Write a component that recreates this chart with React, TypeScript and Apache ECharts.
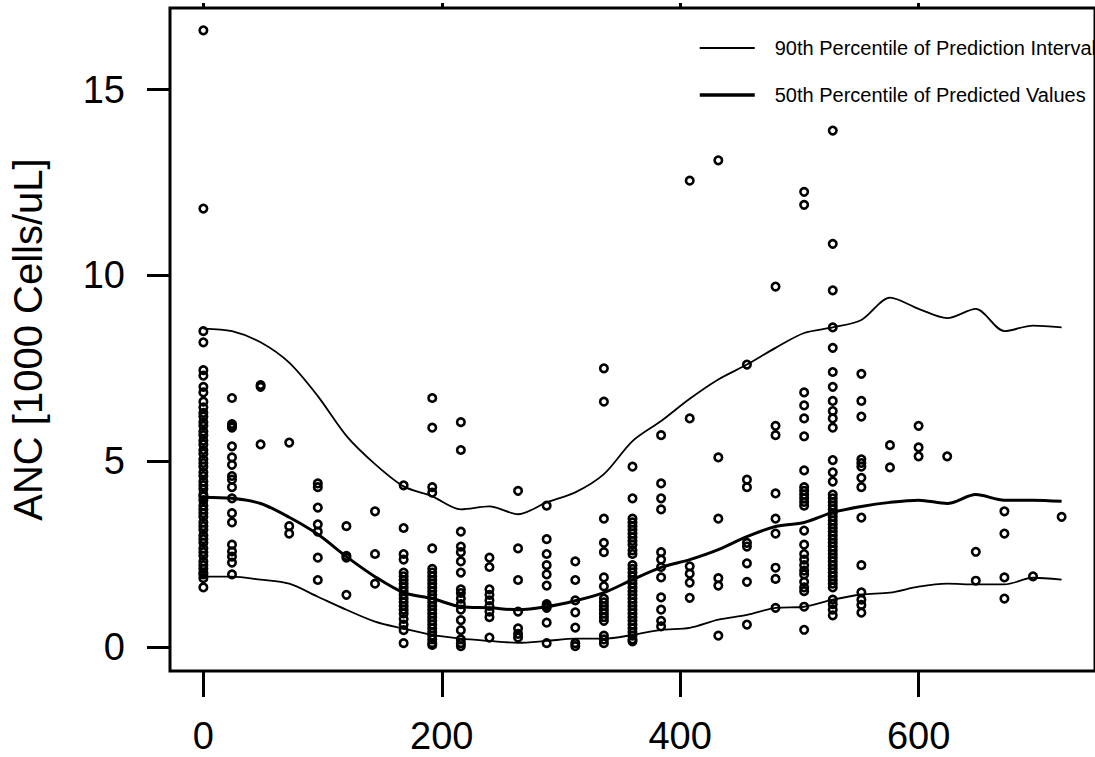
import React, { useEffect, useRef } from "react";
import * as echarts from "echarts";

const visitDays = [0, 24, 48, 72, 96, 120, 144, 168, 192, 216, 240, 264, 288, 312, 336, 360, 384, 408, 432, 456, 480, 504, 528, 552, 576, 600, 624, 648, 672, 696, 720];

const ancObserved: number[][] = [
  [16.6, 11.8, 8.5, 8.2, 7.45, 7.3, 7.0, 6.85, 6.6, 6.45, 6.3, 6.2, 6.05, 5.95, 5.8, 5.7, 5.55, 5.45, 5.3, 5.2, 5.05, 4.95, 4.85, 4.7, 4.6, 4.45, 4.35, 4.25, 4.1, 4.05, 3.95, 3.8, 3.7, 3.6, 3.5, 3.35, 3.25, 3.15, 3.0, 2.9, 2.8, 2.65, 2.55, 2.45, 2.3, 2.2, 2.1, 2.0, 1.95, 1.85, 1.6],
  [6.7, 6.0, 5.95, 5.9, 5.4, 5.1, 4.9, 4.6, 4.5, 4.3, 4.0, 3.6, 3.35, 2.75, 2.57, 2.43, 2.27, 1.95],
  [7.05, 7.0, 5.45],
  [5.5, 3.25, 3.05],
  [4.4, 4.3, 3.75, 3.3, 3.1, 2.4, 1.8],
  [3.25, 2.45, 2.4, 1.4],
  [3.65, 2.5, 1.7],
  [4.35, 3.2, 2.5, 2.35, 2.0, 1.9, 1.8, 1.7, 1.6, 1.5, 1.4, 1.3, 1.2, 1.1, 1.0, 0.9, 0.75, 0.6, 0.45, 0.1],
  [6.7, 5.9, 4.3, 4.15, 2.65, 2.1, 2.0, 1.9, 1.8, 1.7, 1.6, 1.5, 1.4, 1.3, 1.2, 1.1, 1.0, 0.9, 0.8, 0.7, 0.6, 0.5, 0.4, 0.3, 0.2, 0.1, 0.05],
  [6.05, 5.3, 3.1, 2.7, 2.55, 2.3, 2.0, 1.55, 1.45, 1.3, 1.15, 1.0, 0.72, 0.45, 0.2, 0.1, 0.02],
  [2.4, 2.15, 1.55, 1.4, 1.25, 1.1, 0.95, 0.8, 0.25],
  [4.2, 2.65, 1.8, 0.95, 0.5, 0.35, 0.25],
  [3.8, 2.9, 2.5, 2.2, 1.95, 1.65, 1.15, 1.1, 1.05, 0.65, 0.1],
  [2.3, 1.8, 1.25, 0.93, 0.52, 0.1, 0.02],
  [7.5, 6.6, 3.45, 2.8, 2.55, 1.87, 1.63, 1.3, 1.2, 1.1, 1.0, 0.9, 0.8, 0.7, 0.3, 0.2, 0.1],
  [4.85, 4.0, 3.45, 3.35, 3.25, 3.15, 3.05, 2.95, 2.85, 2.75, 2.6, 2.5, 2.2, 2.1, 2.0, 1.9, 1.8, 1.7, 1.6, 1.5, 1.4, 1.3, 1.2, 1.1, 1.0, 0.9, 0.8, 0.7, 0.6, 0.5, 0.4, 0.3, 0.2, 0.15],
  [5.7, 4.4, 4.0, 3.7, 2.55, 2.35, 2.15, 1.87, 1.33, 1.0, 0.7, 0.55],
  [12.55, 6.15, 2.17, 1.97, 1.73, 1.32],
  [13.1, 5.1, 3.45, 1.85, 1.65, 0.3],
  [7.6, 4.5, 4.3, 2.8, 2.7, 2.25, 1.75, 0.6],
  [9.7, 5.95, 5.7, 4.13, 3.45, 3.05, 2.13, 1.83, 1.05],
  [12.25, 11.9, 6.85, 6.5, 6.15, 5.67, 4.75, 4.3, 4.2, 4.1, 4.0, 3.9, 3.8, 3.13, 2.75, 2.5, 2.35, 2.2, 2.05, 1.95, 1.75, 1.6, 1.5, 1.08, 0.46],
  [13.9, 10.85, 9.6, 8.6, 8.05, 7.4, 7.0, 6.62, 6.35, 6.15, 5.9, 5.03, 4.7, 4.45, 4.1, 4.0, 3.9, 3.8, 3.7, 3.6, 3.5, 3.4, 3.3, 3.2, 3.1, 3.0, 2.9, 2.8, 2.7, 2.6, 2.5, 2.4, 2.3, 2.2, 2.1, 2.0, 1.9, 1.8, 1.7, 1.6, 1.27, 1.15, 1.0, 0.85],
  [7.35, 6.62, 6.2, 5.05, 4.95, 4.85, 4.55, 4.3, 3.48, 2.2, 1.47, 1.27, 1.13, 0.92],
  [5.43, 4.83],
  [5.95, 5.37, 5.13],
  [5.13],
  [2.56, 1.78],
  [3.65, 3.05, 1.87, 1.3],
  [1.9],
  [3.5],
];

const upper90 = [8.57, 8.5, 8.2, 7.65, 6.75, 5.68, 4.92, 4.32, 4.05, 3.7, 3.78, 3.57, 3.89, 4.16, 4.65, 5.54, 6.08, 6.68, 7.2, 7.6, 8.05, 8.45, 8.6, 8.8, 9.4, 9.1, 8.85, 9.1, 8.5, 8.65, 8.6];
const median50 = [4.03, 4.0, 3.86, 3.49, 3.03, 2.43, 1.89, 1.46, 1.3, 1.08, 1.05, 1.0, 1.08, 1.24, 1.46, 1.81, 2.14, 2.35, 2.62, 2.97, 3.24, 3.35, 3.62, 3.78, 3.89, 3.95, 3.86, 4.1, 3.95, 3.95, 3.92];
const lower90 = [1.89, 1.89, 1.81, 1.7, 1.35, 1.0, 0.68, 0.49, 0.32, 0.22, 0.16, 0.11, 0.16, 0.22, 0.22, 0.32, 0.46, 0.51, 0.73, 0.86, 1.05, 1.08, 1.27, 1.41, 1.46, 1.62, 1.7, 1.68, 1.68, 1.86, 1.81];

const xTicks = [0, 200, 400, 600];
const yTicks = [0, 5, 10, 15];

const PI_NAME = "90th Percentile of Prediction Interval";
const MED_NAME = "50th Percentile of Predicted Values";
const FONT = "Liberation Sans, Arial, sans-serif";

export default function App() {
  const ref = useRef<HTMLDivElement>(null);

  useEffect(() => {
    if (!ref.current) return;
    const chart = echarts.init(ref.current, undefined, { renderer: "svg" });

    const points: number[][] = [];
    visitDays.forEach((d, i) => {
      ancObserved[i].forEach((v) => points.push([d, v]));
    });
    const zip = (ys: number[]) => visitDays.map((d, i) => [d, ys[i]]);

    chart.setOption({
      animation: false,
      backgroundColor: "#fff",
      grid: {
        left: 169,
        right: -11,
        top: 8,
        bottom: 86,
        show: true,
        borderColor: "#000",
        borderWidth: 3,
        backgroundColor: "transparent",
      },
      legend: {
        data: [
          { name: PI_NAME, lineStyle: { width: 1.8, color: "#000" } },
          { name: MED_NAME, lineStyle: { width: 3.5, color: "#000" } },
        ],
        orient: "vertical",
        left: 693,
        top: 33,
        itemWidth: 55,
        itemHeight: 14,
        itemGap: 27,
        selectedMode: false,
        itemStyle: { opacity: 0 },
        textStyle: {
          fontFamily: FONT,
          fontSize: 20,
          color: "#000",
          padding: [0, 0, 0, 15],
        },
      },
      xAxis: [
        {
          type: "value",
          min: -28,
          max: 748,
          axisLine: { show: false, onZero: false },
          splitLine: { show: false },
          axisTick: {
            show: true,
            customValues: xTicks,
            length: 26,
            lineStyle: { color: "#000", width: 3 },
          },
          axisLabel: {
            customValues: xTicks,
            fontSize: 38,
            fontFamily: FONT,
            color: "#000",
            margin: 46,
          },
        },
        {
          type: "value",
          position: "top",
          min: -28,
          max: 748,
          axisLine: { show: false, onZero: false },
          splitLine: { show: false },
          axisTick: {
            show: true,
            customValues: xTicks,
            length: 5,
            lineStyle: { color: "#000", width: 3 },
          },
          axisLabel: { show: false },
        },
      ],
      yAxis: {
        type: "value",
        min: -0.65,
        max: 17.2,
        axisLine: { show: false, onZero: false },
        splitLine: { show: false },
        axisTick: {
          show: true,
          customValues: yTicks,
          length: 23,
          lineStyle: { color: "#000", width: 3 },
        },
        axisLabel: {
          customValues: yTicks,
          fontSize: 38,
          fontFamily: FONT,
          color: "#000",
          margin: 45,
        },
        name: "ANC [1000 Cells/uL]",
        nameLocation: "middle",
        nameRotate: 90,
        nameGap: 122,
        nameTextStyle: { fontSize: 40, fontFamily: FONT, color: "#000" },
      },
      series: [
        {
          type: "scatter",
          name: "Observed",
          data: points,
          symbol: "circle",
          symbolSize: 7.5,
          itemStyle: { color: "rgba(0,0,0,0)", borderColor: "#000", borderWidth: 2.6, opacity: 1 },
          z: 3,
        },
        {
          type: "line",
          name: PI_NAME,
          data: zip(upper90),
          showSymbol: false,
          symbol: "none",
          smooth: 0.3,
          lineStyle: { color: "#000", width: 1.8 },
          itemStyle: { color: "#000" },
          z: 2,
        },
        {
          type: "line",
          name: PI_NAME,
          data: zip(lower90),
          showSymbol: false,
          symbol: "none",
          smooth: 0.3,
          lineStyle: { color: "#000", width: 1.8 },
          itemStyle: { color: "#000" },
          z: 2,
        },
        {
          type: "line",
          name: MED_NAME,
          data: zip(median50),
          showSymbol: false,
          symbol: "none",
          smooth: 0.3,
          lineStyle: { color: "#000", width: 3 },
          itemStyle: { color: "#000" },
          z: 2,
        },
      ],
    });

    return () => chart.dispose();
  }, []);

  return (
    <div
      ref={ref}
      style={{ position: "absolute", left: 0, top: 0, width: 1095, height: 757, background: "#fff" }}
    />
  );
}
